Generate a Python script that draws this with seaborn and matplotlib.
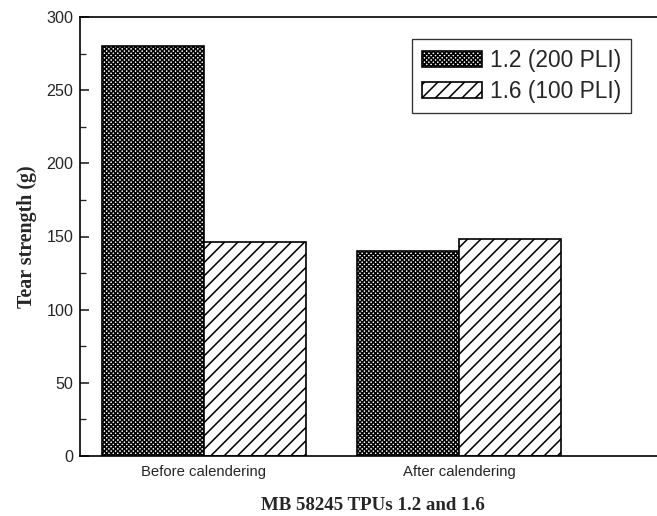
import matplotlib
matplotlib.use("Agg")
import matplotlib.pyplot as plt
from matplotlib.ticker import MultipleLocator
import seaborn as sns
import pandas as pd

# Tear strength of MB 58245 TPU films before and after calendering
conditions = ["Before calendering", "After calendering"]
grades = ["1.2 (200 PLI)", "1.6 (100 PLI)"]
strength_12 = [280, 140]
strength_16 = [146, 148]

df = pd.DataFrame({
    "condition": conditions * 2,
    "grade": [grades[0]] * 2 + [grades[1]] * 2,
    "strength": strength_12 + strength_16,
})

sns.set_theme(style="white")
plt.rcParams["font.family"] = ["Liberation Sans", "DejaVu Sans"]
plt.rcParams["hatch.linewidth"] = 1.4
plt.rcParams["hatch.color"] = "black"

DPI = 80
fig = plt.figure(figsize=(657 / DPI, 516 / DPI), dpi=DPI)
ax = fig.add_axes([80 / 657, 60 / 516, 585 / 657, 439 / 516])

sns.barplot(data=df, x="condition", y="strength", hue="grade",
            order=conditions, hue_order=grades, width=0.8,
            palette=["white", "white"], edgecolor="black", linewidth=1.5,
            saturation=1, errorbar=None, ax=ax)

hatches = ["xxxxxx", "//"]
for container, h in zip(ax.containers, hatches):
    for bar in container:
        bar.set_hatch(h)
        bar.set_edgecolor("black")

ax.set_xlim(-0.486, 1.808)
ax.set_ylim(0, 300)
ax.yaxis.set_major_locator(MultipleLocator(50))
ax.yaxis.set_minor_locator(MultipleLocator(25))
ax.tick_params(axis="y", which="major", direction="in", length=8, width=1.5,
               labelsize=14.5, pad=6, left=True)
ax.tick_params(axis="y", which="minor", direction="in", length=5, width=1.2,
               left=True)
ax.tick_params(axis="x", length=0, labelsize=13.4, pad=8)

for side in ["left", "bottom", "top"]:
    ax.spines[side].set_visible(True)
    ax.spines[side].set_color("black")
    ax.spines[side].set_linewidth(1.5)
ax.spines["right"].set_visible(False)

ax.set_ylabel("Tear strength (g)", family=["Liberation Serif", "DejaVu Serif"],
              fontweight="bold", fontsize=18, labelpad=8)
ax.set_xlabel("MB 58245 TPUs 1.2 and 1.6", family=["Liberation Serif", "DejaVu Serif"],
              fontweight="bold", fontsize=17, labelpad=16)

leg = ax.legend(loc="upper right", bbox_to_anchor=(0.942, 0.95), borderaxespad=0,
                fontsize=20.5, frameon=True, fancybox=False, shadow=False,
                handlelength=2.6, handleheight=0.7, handletextpad=0.35,
                labelspacing=0.33, borderpad=0.45, title=None)
leg.get_frame().set_edgecolor("black")
leg.get_frame().set_linewidth(1.2)
for patch, h in zip(leg.get_patches(), hatches):
    patch.set_hatch(h)
    patch.set_edgecolor("black")
    patch.set_facecolor("white")

fig.savefig("out.png", dpi=DPI)
